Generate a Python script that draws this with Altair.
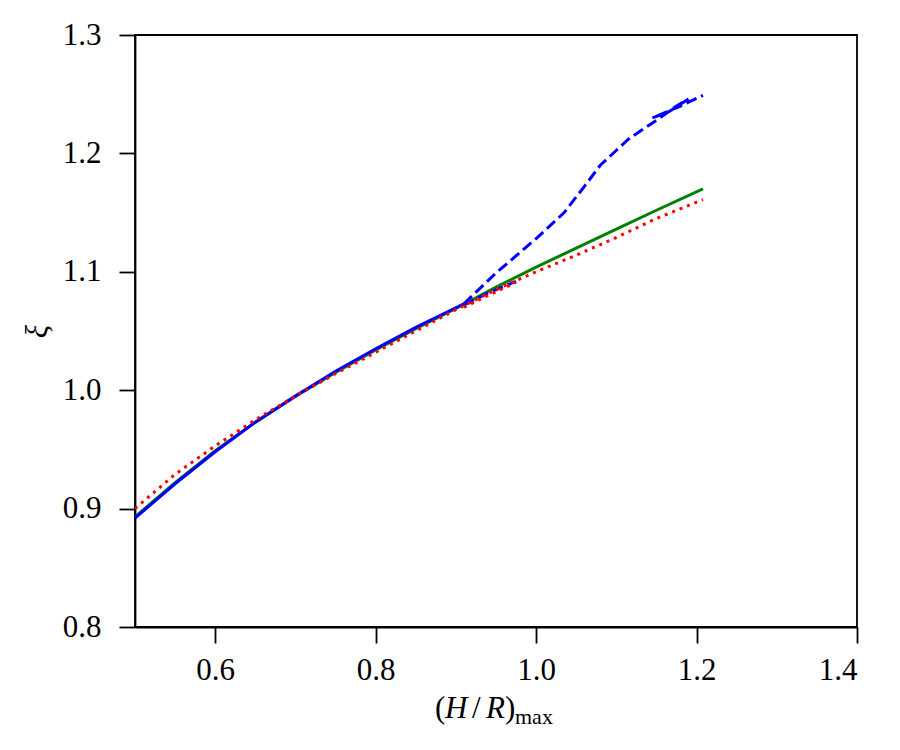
import altair as alt
import pandas as pd

# ---- data ----
green_x = [0.50, 0.55, 0.60, 0.65, 0.70, 0.75, 0.80, 0.85, 0.90, 0.95, 1.00, 1.05, 1.10, 1.15, 1.208]
green_y = [0.893, 0.922, 0.949, 0.973, 0.995, 1.015, 1.034, 1.052, 1.069, 1.087, 1.104, 1.120, 1.136, 1.152, 1.170]

blue_x = [0.50, 0.55, 0.60, 0.65, 0.70, 0.75, 0.80, 0.85, 0.91]
blue_y = [0.892, 0.921, 0.948, 0.973, 0.995, 1.016, 1.035, 1.053, 1.073]

blue_dash_x = [0.91, 0.95, 1.00, 1.035, 1.06, 1.08, 1.115, 1.15, 1.175, 1.19, 1.165, 1.145, 1.18, 1.208]
blue_dash_y = [1.073, 1.099, 1.128, 1.150, 1.172, 1.190, 1.212, 1.228, 1.240, 1.246, 1.235, 1.230, 1.240, 1.249]

blue_dash2_x = [0.91, 0.94, 0.975]
blue_dash2_y = [1.072, 1.082, 1.092]

red_x = [0.50, 0.55, 0.60, 0.65, 0.70, 0.75, 0.80, 0.85, 0.90, 0.95, 1.00, 1.05, 1.10, 1.15, 1.208]
red_y = [0.900, 0.929, 0.953, 0.975, 0.995, 1.014, 1.032, 1.050, 1.068, 1.085, 1.100, 1.114, 1.129, 1.145, 1.161]

red2_x = [0.91, 0.94, 0.975]
red2_y = [1.070, 1.080, 1.091]

x_ticks = [0.6, 0.8, 1.0, 1.2, 1.4]
y_ticks = [0.8, 0.9, 1.0, 1.1, 1.2, 1.3]

FONT = "Liberation Serif"
FS = 31


def frame(xs, ys):
    return pd.DataFrame({"x": xs, "y": ys, "order": list(range(len(xs)))})


xscale = alt.Scale(domain=[0.5, 1.4], nice=False, zero=False)
yscale = alt.Scale(domain=[0.8, 1.3], nice=False, zero=False)

xaxis = alt.Axis(values=x_ticks, format=".1f", title=None, grid=False,
                 tickSize=16, tickWidth=1.8, domainWidth=1.8, tickColor="black",
                 domainColor="black", labelFont=FONT, labelFontSize=FS,
                 labelColor="black", labelPadding=12)
yaxis = alt.Axis(values=y_ticks, format=".1f", title="ξ", grid=False,
                 tickSize=16, tickWidth=1.8, domainWidth=1.8, tickColor="black",
                 domainColor="black", labelFont=FONT, labelFontSize=FS,
                 labelColor="black", labelPadding=18,
                 titleFont=FONT, titleFontSize=FS, titleFontStyle="italic",
                 titleFontWeight="normal", titleColor="black",
                 titleX=-98, titleY=296, titleAlign="center", titleBaseline="middle",
                 titleAngle=270)


def line(xs, ys, color, dash=None, width=3):
    kw = dict(color=color, strokeWidth=width, clip=True)
    if dash:
        kw["strokeDash"] = dash
    return alt.Chart(frame(xs, ys)).mark_line(**kw).encode(
        x=alt.X("x:Q", scale=xscale, axis=xaxis),
        y=alt.Y("y:Q", scale=yscale, axis=yaxis),
        order="order:Q",
    )


layers = [
    line(green_x, green_y, "#008000"),
    line(blue_x, blue_y, "#0000ff"),
    line(blue_dash_x, blue_dash_y, "#0000ff", dash=[11, 5]),
    line(blue_dash2_x, blue_dash2_y, "#0000ff", dash=[11, 5]),
    line(red_x, red_y, "#ff0000", dash=[3, 5]),
    line(red2_x, red2_y, "#ff0000", dash=[3, 5]),
]

# x-axis title "(H/R)max" with italic H, R and subscript
title_parts = [
    ("(", "normal", FS, 300, 683),
    ("H", "italic", FS, 310, 683),
    ("/", "normal", FS, 337, 683),
    ("R", "italic", FS, 351, 683),
    (")", "normal", FS, 370, 683),
    ("max", "normal", 22, 380, 689),
]
for t, style, size, px, py in title_parts:
    layers.append(
        alt.Chart(pd.DataFrame({"t": [t]})).mark_text(
            font=FONT, fontSize=size, fontStyle=style, align="left",
            baseline="alphabetic", color="black", clip=False
        ).encode(text="t:N", x=alt.value(px), y=alt.value(py))
    )

chart = alt.layer(*layers).properties(
    width=722, height=592,
    autosize=alt.AutoSizeParams(type="none"),
    padding={"left": 135, "top": 35, "right": 43, "bottom": 123},
    background="white",
).configure_view(stroke="black", strokeWidth=1.8)

chart.save("out.html", embed_options={"renderer": "svg", "actions": False})
